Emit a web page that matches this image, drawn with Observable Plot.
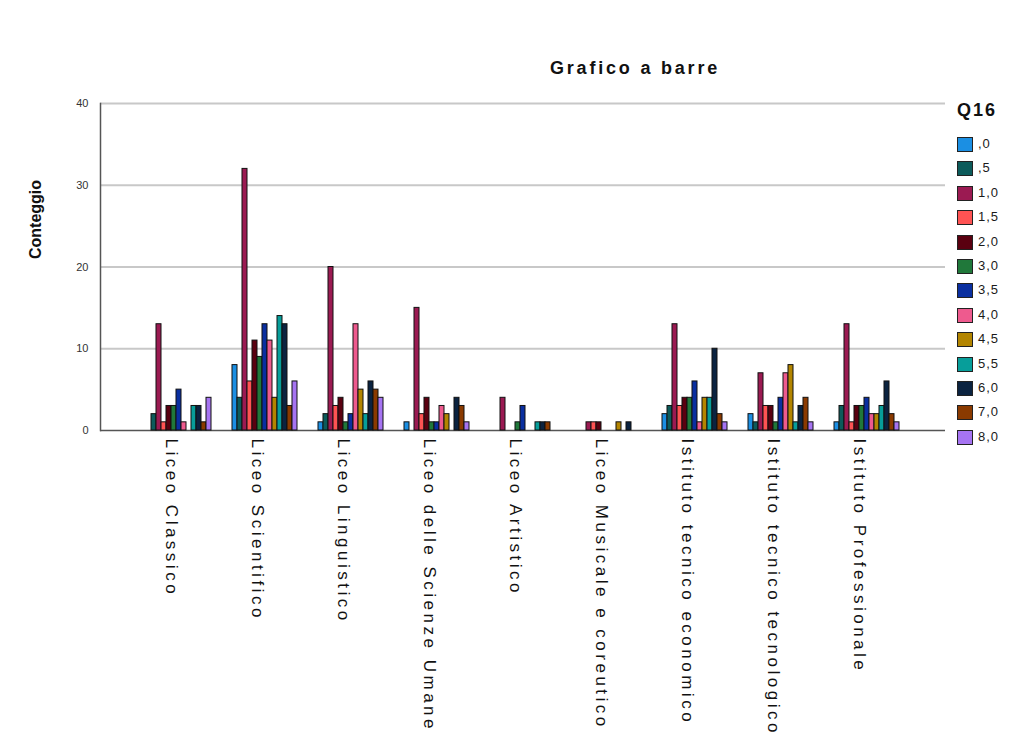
<!DOCTYPE html>
<html>
<head>
<meta charset="utf-8">
<script src="https://cdn.jsdelivr.net/npm/d3@7"></script>
<script src="https://cdn.jsdelivr.net/npm/@observablehq/plot@0.6"></script>
<style>
  body { margin: 0; background: #fff; font-family: "Liberation Sans", Arial, sans-serif; }
  #wrap { position: relative; width: 1009px; height: 742px; overflow: hidden; background: #fff; }
  #title { position: absolute; left: 435px; width: 400px; top: 58px; text-align: center;
           font-weight: bold; font-size: 18px; letter-spacing: 2.8px; color: #111; }
  #legend { position: absolute; left: 955px; top: 100px; }
  #legend .lt { position: absolute; left: 2px; top: 0px; font-weight: bold; font-size: 18px; letter-spacing: 2px; color: #111; white-space: nowrap; }
  #legend .item { position: absolute; left: 2px; height: 16px; white-space: nowrap; }
  #legend .sw { position: absolute; left: 0; top: 0; width: 14px; height: 13px; border: 1.5px solid #222; }
  #legend .lb { position: absolute; left: 21px; top: -1px; font-size: 13px; letter-spacing: 1px; color: #1a1a1a; }
  .layer { position: absolute; left: 0; top: 0; }
  svg g[aria-label="fx-axis tick label"] text { letter-spacing: 3.5px; }
  svg g[aria-label="ylabel"] text { letter-spacing: 4px; }
  svg g[aria-label="yticks"] text { letter-spacing: 1.5px; }
</style>
</head>
<body>
<div id="wrap">
  <div id="back" class="layer"></div>
  <div id="front" class="layer"></div>
  <div id="title">Grafico a barre</div>
  <div id="legend"></div>
</div>
<script>
const categories = [
  "Liceo Classico", "Liceo Scientifico", "Liceo Linguistico",
  "Liceo delle Scienze Umane", "Liceo Artistico", "Liceo Musicale e coreutico",
  "Istituto tecnico economico", "Istituto tecnico tecnologico", "Istituto Professionale"
];
const levels = [",0", ",5", "1,0", "1,5", "2,0", "3,0", "3,5", "4,0", "4,5", "5,5", "6,0", "7,0", "8,0"];
const colors = ["#1b8fe3", "#0c5b5b", "#9b1a52", "#ff5353", "#5a0010", "#20783a", "#0a2fa0",
                "#ee5a8e", "#b38500", "#079e9a", "#0b2340", "#8a3a00", "#a674f2"];
const yTicks = [0, 10, 20, 30, 40];

const liceoClassico      = [0, 2, 13, 1, 3, 3, 5, 1, 0, 3, 3, 1, 4];
const liceoScientifico   = [8, 4, 32, 6, 11, 9, 13, 11, 4, 14, 13, 3, 6];
const liceoLinguistico   = [1, 2, 20, 3, 4, 1, 2, 13, 5, 2, 6, 5, 4];
const liceoScienzeUmane  = [1, 0, 15, 2, 4, 1, 1, 3, 2, 0, 4, 3, 1];
const liceoArtistico     = [0, 0, 4, 0, 0, 1, 3, 0, 0, 1, 1, 1, 0];
const liceoMusicale      = [0, 0, 1, 1, 1, 0, 0, 0, 1, 0, 1, 0, 0];
const tecnicoEconomico   = [2, 3, 13, 3, 4, 4, 6, 1, 4, 4, 10, 2, 1];
const tecnicoTecnologico = [2, 1, 7, 3, 3, 1, 4, 7, 8, 1, 3, 4, 1];
const professionale      = [1, 3, 13, 1, 3, 3, 4, 2, 2, 3, 6, 2, 1];

const counts = [liceoClassico, liceoScientifico, liceoLinguistico, liceoScienzeUmane,
                liceoArtistico, liceoMusicale, tecnicoEconomico, tecnicoTecnologico, professionale];

const table = [];
categories.forEach((c, i) => levels.forEach((l, j) => {
  if (counts[i][j] > 0) table.push({cat: c, q: l, n: counts[i][j]});
}));

const common = {
  width: 1009,
  height: 742,
  marginLeft: 100,
  marginRight: 64,
  marginTop: 103,
  marginBottom: 312,
  style: {fontFamily: "'Liberation Sans', Arial, sans-serif", background: "transparent"},
  y: {domain: [0, 40], axis: null, label: null}
};

// Background layer: grid, axis line, y tick labels, y title
const back = Plot.plot({
  ...common,
  marks: [
    Plot.ruleY([10, 20, 30, 40], {stroke: "#c8c8c8", strokeWidth: 1.8}),
    Plot.ruleY([0], {stroke: "#555", strokeWidth: 1.5}),
    Plot.frame({anchor: "left", stroke: "#555", strokeWidth: 1.5}),
    Plot.text(yTicks, {y: d => d, text: d => String(d), frameAnchor: "left",
                       textAnchor: "end", dx: -12, fontSize: 11, fill: "#333", ariaLabel: "yticks"}),
    Plot.text(["Conteggio"], {frameAnchor: "left", dx: -65, dy: -8, rotate: -90,
                              fontWeight: "bold", fontSize: 16, fill: "#111", ariaLabel: "ylabel"})
  ]
});
document.getElementById("back").appendChild(back);

// Front layer: grouped bars by facet
const front = Plot.plot({
  ...common,
  fx: {domain: categories, paddingInner: 0.158, paddingOuter: 0.45, label: null},
  x: {domain: levels, padding: 0, axis: null, label: null},
  color: {domain: levels, range: colors},
  marks: [
    Plot.barY(table, {fx: "cat", x: "q", y: "n", fill: "q", stroke: "#111", strokeWidth: 1}),
    Plot.axisFx({anchor: "bottom", tickRotate: 90, tickSize: 0, tickPadding: 8, fontSize: 17,
                 label: null, fill: "#111", dx: -7})
  ]
});
document.getElementById("front").appendChild(front);

const legend = document.getElementById("legend");
const lt = document.createElement("div");
lt.className = "lt";
lt.textContent = "Q16";
legend.appendChild(lt);
levels.forEach((l, i) => {
  const it = document.createElement("div");
  it.className = "item";
  it.style.top = (37 + i * 24.4) + "px";
  const sw = document.createElement("div");
  sw.className = "sw";
  sw.style.background = colors[i];
  const lb = document.createElement("div");
  lb.className = "lb";
  lb.textContent = l;
  it.appendChild(sw);
  it.appendChild(lb);
  legend.appendChild(it);
});
</script>
</body>
</html>
